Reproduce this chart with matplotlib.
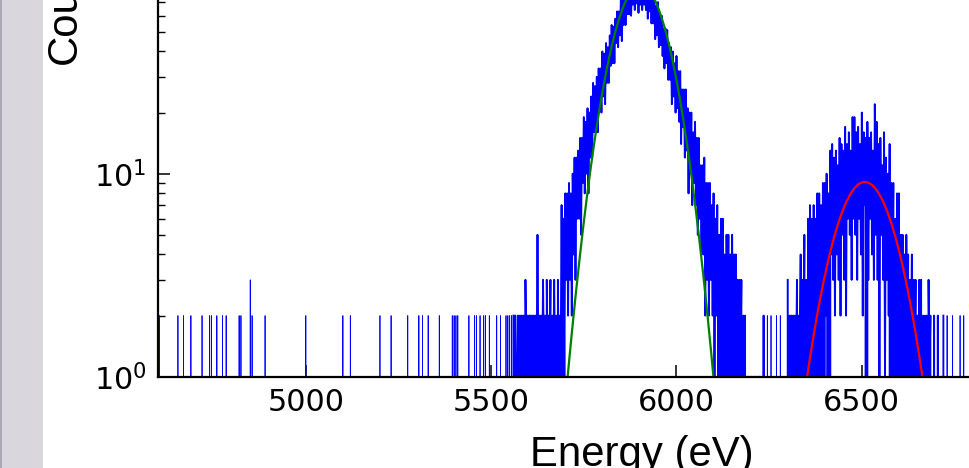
import numpy as np
import matplotlib
matplotlib.use('Agg')
import matplotlib.pyplot as plt
from matplotlib.patches import Rectangle
from matplotlib.ticker import NullLocator

# channel grid (eV)
e_start = 4600
e_step = 2.5
e_stop = 7200

# isolated background channels (counts >= 2)
bg_energy = [4605, 4655, 4670, 4690, 4720, 4740, 4745, 4760, 4775, 4785,
             4820, 4825, 4850, 4855, 4890, 5000, 5100, 5120, 5200, 5230,
             5275, 5305, 5315, 5330, 5360, 5395, 5400, 5405, 5410, 5440,
             5455, 5460, 5470, 5480, 5485, 5495, 5515, 5525, 5540, 5545,
             5550, 5555, 6245, 6255, 6270, 6280, 6730, 6745, 6765, 6775]
bg_counts = [2, 2, 2, 2, 2, 2, 2, 2, 2, 2,
             2, 2, 3, 2, 2, 2, 2, 2, 2, 2,
             2, 2, 2, 2, 2, 2, 2, 2, 2, 2,
             2, 2, 2, 2, 2, 2, 2, 2, 2, 2,
             2, 2, 2, 2, 2, 2, 2, 2, 2, 2]

# K-alpha region, one channel every 2.5 eV from 5560 eV
ka_start = 5560
ka_counts = [
    2, 0, 2, 1, 0, 2, 1, 2, 0, 2,
    1, 2, 0, 3, 1, 2, 0, 2, 2, 0,
    2, 1, 2, 0, 2, 1, 5, 1, 2, 0,
    2, 1, 3, 1, 2, 0, 3, 1, 2, 1,
    3, 0, 2, 1, 3, 1, 2, 0, 3, 1,
    2, 1,
    7, 1, 6, 1, 8, 3, 8, 2, 9, 3,
    8, 2, 10, 4, 12, 3, 12, 6, 13, 6,
    15, 5, 15, 9, 19, 8, 18, 10, 21, 8,
    20, 12, 24, 12, 28, 16, 27, 16, 30, 16,
    33, 22, 33, 20, 40, 24, 39, 22, 44, 28,
    42, 28, 48, 34, 54, 35, 53, 35, 58, 44,
    63, 42, 63, 48, 74, 45, 72, 54, 79, 54,
    75, 61, 84, 61, 90, 60, 86, 68, 89, 64,
    92, 69, 89, 62, 97, 68, 90, 64, 92, 68,
    84, 64, 87, 58, 88, 63, 79, 55, 77, 55,
    75, 46, 67, 48, 70, 42, 61, 43, 60, 38,
    52, 33, 52, 35, 51, 29, 44, 29, 42, 22,
    40, 24, 35, 20, 38, 21, 32, 18, 32, 14,
    26, 17, 26, 12, 26, 13, 21, 8, 20, 10,
    20, 7, 16, 9, 18, 7, 15, 5, 15, 6,
    11, 4, 11, 4, 12, 2, 9, 3, 9, 2,
    9, 3, 7, 2, 8, 1, 6, 2, 7, 1,
    5, 1, 6, 0, 6, 1, 4, 0, 5, 1,
    5, 0, 4, 0, 5, 1, 4, 0, 4, 0,
    3, 0, 3, 1, 3, 0, 2, 0, 2, 0,
    1,
    0, 1, 0, 0, 1, 0, 0, 1, 0, 0,
    1, 0, 0, 1, 0, 0, 0, 2, 0, 0]

# K-beta region, one channel every 2.5 eV from 6300 eV
kb_start = 6300
kb_counts = [
    3, 0, 2, 0, 2, 1, 2, 0, 2, 1,
    3, 0, 2, 1, 4, 0, 3, 1, 5, 0,
    3, 0, 6, 0, 7, 0, 6, 0, 7, 1,
    6, 1, 8, 0, 8, 1, 7, 1, 9, 0,
    9, 2, 10, 1, 8, 0, 13, 4, 14, 3,
    12, 2, 13, 4, 11, 3, 15, 2, 14, 5,
    13, 3, 17, 2, 14, 6, 16, 5, 13, 3,
    19, 6, 19, 5, 16, 3, 17, 6, 14, 4,
    20, 2, 16, 7, 15, 0, 18, 3, 15, 6,
    16, 4, 13, 3, 22, 5, 18, 3, 14, 1,
    15, 5, 11, 3, 16, 1, 12, 3, 10, 2,
    14, 0, 9, 2, 9, 0, 6, 0, 8, 1,
    8, 0, 5, 0, 5, 0, 4, 0, 5, 1,
    4, 0, 3, 1, 4, 0, 3, 1, 3, 0,
    2, 0, 3, 1, 3, 0, 2, 1, 2, 0,
    2, 0, 3, 1, 2, 0, 1, 0, 2, 0,
    1, 0, 2, 0, 1, 0, 1, 0, 2]

# gaussian fits
fit_amp = [85.0, 9.1]
fit_centre = [5903.0, 6508.0]
fit_sigma = [66.0, 74.0]
fit_colour = ['g', 'r']

x_ticks = [5000, 5500, 6000, 6500]

energy = np.arange(e_start, e_stop + e_step, e_step)
counts = np.zeros(len(energy))
for e, c in zip(bg_energy, bg_counts):
    counts[int(round((e - e_start) / e_step))] = c
regions = []
for start, vals in ((ka_start, ka_counts), (kb_start, kb_counts)):
    i0 = int(round((start - e_start) / e_step))
    counts[i0:i0 + len(vals)] = vals
    regions.append((i0, i0 + len(vals)))

fig = plt.figure(figsize=(9.69, 4.68), dpi=100)
fig.patches.append(Rectangle((0, 0), 43 / 969, 1, transform=fig.transFigure,
                             facecolor='#d9d7dd', edgecolor='none'))
fig.patches.append(Rectangle((0, 0), 1.5 / 969, 1, transform=fig.transFigure,
                             facecolor='#aea7b6', edgecolor='none'))

ax = fig.add_axes([158.3 / 969, 91.3 / 468, 963 / 969, 401.5 / 468])
ax.plot(energy, counts, color='b', lw=0.55)
# the peaks are so dense that the channels merge into a solid band
for a0, a1 in regions:
    ax.plot(energy[a0:a1], counts[a0:a1], color='b', lw=1.35)

xs = np.linspace(e_start, e_stop, 3000)
for a, c, s, col in zip(fit_amp, fit_centre, fit_sigma, fit_colour):
    ax.plot(xs, a * np.exp(-(xs - c) ** 2 / (2 * s ** 2)), color=col, lw=1.6)

ax.set_yscale('log')
ax.set_xlim(4602, 7200)
ax.set_ylim(1, 95)
ax.set_xticks(x_ticks)
ax.xaxis.set_minor_locator(NullLocator())
ax.tick_params(which='both', direction='in', top=True, right=True)
ax.tick_params(which='major', length=8.5, width=1.1, labelsize=21.8, pad=8.4)
ax.tick_params(which='minor', length=5, width=1.0)
for sp in ax.spines.values():
    sp.set_linewidth(1.6)

fig.text(641.5 / 969, (468 - 466.2) / 468, 'Energy (eV)', ha='center',
         va='baseline', family='Liberation Sans', fontsize=30.2)
fig.text(75.5 / 969, 1 - 64.5 / 468, 'Counts', rotation=90,
         rotation_mode='anchor', ha='left', va='baseline',
         family='Liberation Sans', fontsize=30.2)

fig.savefig('out.png', dpi=100)
